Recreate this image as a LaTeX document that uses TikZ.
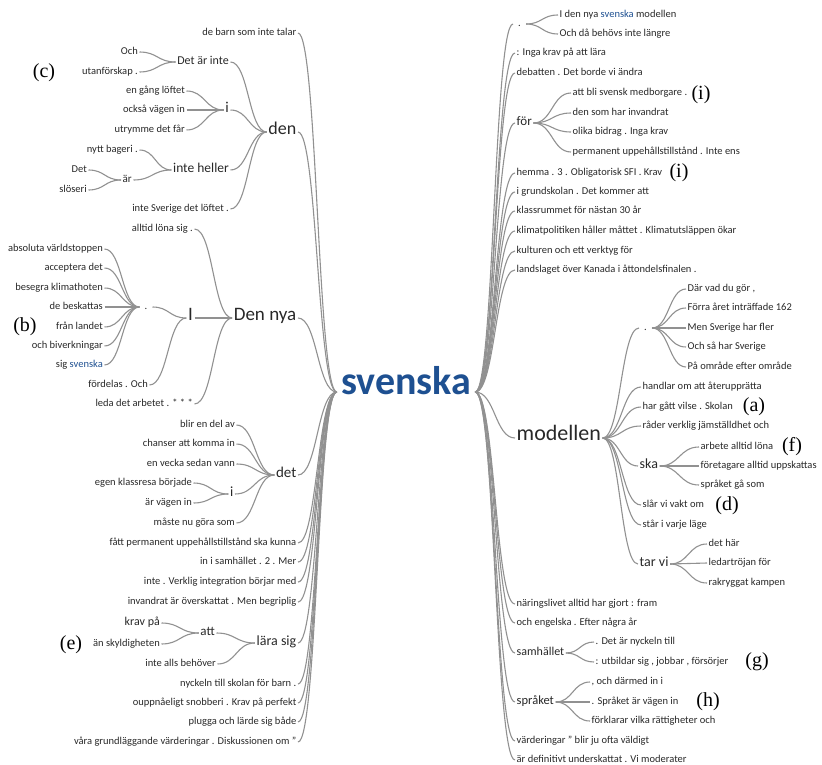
\documentclass[tikz,border=0pt]{standalone}
\usepackage{fontspec}
\setmainfont{Carlito}
\newfontfamily\labelfont{Liberation Serif}
\usetikzlibrary{calc}

\definecolor{edgegray}{RGB}{145,145,145}
\definecolor{wordblue}{RGB}{30,80,145}
\definecolor{wordtext}{RGB}{40,40,40}

\tikzset{
  fs/.style={font=\fontsize{#1}{#1}\selectfont},
  word/.style={inner xsep=1.5pt, inner ysep=0pt, text height=0.7em, text depth=0.25em, text=wordtext, fs=10.5},
  lw/.style={word, anchor=east},
  rw/.style={word, anchor=west},
  dotw/.style={inner xsep=5pt},
  root/.style={inner xsep=4pt, inner ysep=0pt, text height=0.7em, text depth=0.25em, text=wordblue, font=\bfseries\fontsize{40}{40}\selectfont},
  tag/.style={font=\labelfont\fontsize{20}{20}\selectfont, inner sep=0pt},
  wt link/.style={draw=edgegray, line width=1.1pt,
    to path={let \p1=(\tikztostart), \p2=(\tikztotarget) in
      .. controls (\x1/2+\x2/2,\y1) and (\x1/2+\x2/2,\y2) .. (\tikztotarget)}},
}

\begin{document}
\begin{tikzpicture}[x=1pt, y=-1pt]
  \useasboundingbox (0,0) rectangle (822,765);

  \node[root] (svenska) at (406,392) {svenska};

  % 左側
  \node[lw] (debarn) at (298,33) {de barn som inte talar};
  \node[lw, fs=18] (den) at (298,132) {den};
  \node[lw, fs=19] (dennya) at (298,318) {Den nya};
  \node[lw, fs=15] (det) at (298,475) {det};
  \node[lw] (fatt) at (298,543) {fått permanent uppehållstillstånd ska kunna};
  \node[lw] (inisam) at (298,562) {in i samhället . 2 . Mer};
  \node[lw] (inteverk) at (298,582) {inte . Verklig integration börjar med};
  \node[lw] (invandrat) at (298,602) {invandrat är överskattat . Men begriplig};
  \node[lw, fs=14] (larasig) at (298,643) {lära sig};
  \node[lw] (nyckeln) at (298,684) {nyckeln till skolan för barn .};
  \node[lw] (ouppn) at (298,703) {ouppnåeligt snobberi . Krav på perfekt};
  \node[lw] (plugga) at (298,722) {plugga och lärde sig både};
  \node[lw] (vara) at (298,742) {våra grundläggande värderingar . Diskussionen om ”};

  \node[lw, fs=12] (detarinte) at (230.5,62) {Det är inte};
  \node[lw] (och) at (139.5,52) {Och};
  \node[lw] (utanf) at (139.5,72) {utanförskap .};
  \node[lw, fs=15] (iden) at (230.5,110) {i};
  \node[lw] (engang) at (186.5,91) {en gång löftet};
  \node[lw] (ocksa) at (186.5,110) {också vägen in};
  \node[lw] (utrymme) at (186.5,130) {utrymme det får};
  \node[lw, fs=13.5] (inteheller) at (230.5,170) {inte heller};
  \node[lw] (nytt) at (139.5,150) {nytt bageri .};
  \node[lw, fs=11] (ar) at (133.5,180) {är};
  \node[lw] (Det) at (88.5,170) {Det};
  \node[lw] (sloseri) at (88.5,190) {slöseri};
  \node[lw] (intesverige) at (230.5,209) {inte Sverige det löftet .};

  \node[lw] (alltid) at (194.5,229) {alltid löna sig .};
  \node[lw, fs=19] (I) at (194.5,318) {I};
  \node[lw, dotw] (punktI) at (152.5,307) {.};
  \node[lw] (absoluta) at (104.5,249) {absoluta världstoppen};
  \node[lw] (acceptera) at (104.5,268) {acceptera det};
  \node[lw] (besegra) at (104.5,288) {besegra klimathoten};
  \node[lw] (beskattas) at (104.5,307) {de beskattas};
  \node[lw] (franlandet) at (104.5,327) {från landet};
  \node[lw] (biverkn) at (104.5,346) {och biverkningar};
  \node[lw] (sigsv) at (104.5,365) {sig \textcolor{wordblue}{svenska}};
  \node[lw] (fordelas) at (149.5,385) {fördelas . Och};
  \node[lw] (leda) at (194.5,404) {leda det arbetet . * * *};

  \node[lw] (blir) at (236.5,425) {blir en del av};
  \node[lw] (chanser) at (236.5,444) {chanser att komma in};
  \node[lw] (envecka) at (236.5,464) {en vecka sedan vann};
  \node[lw, fs=14] (idet) at (235,494) {i};
  \node[lw] (egen) at (193.5,483) {egen klassresa började};
  \node[lw] (arvagen) at (193.5,503) {är vägen in};
  \node[lw] (maste) at (236.5,523) {måste nu göra som};

  \node[lw, fs=13] (att) at (216.5,633) {att};
  \node[lw, fs=12] (kravpa) at (161.5,623) {krav på};
  \node[lw] (ansk) at (161.5,644) {än skyldigheten};
  \node[lw] (intealls) at (217.5,664) {inte alls behöver};

  % 右側
  \node[rw, dotw] (punkt) at (513,24) {.};
  \node[rw] (idennya) at (558,15) {I den nya \textcolor{wordblue}{svenska} modellen};
  \node[rw] (ochda) at (558,34) {Och då behövs inte längre};
  \node[rw] (inga) at (515,53) {: Inga krav på att lära};
  \node[rw] (debatten) at (515,73) {debatten . Det borde vi ändra};
  \node[rw, fs=13] (for) at (515,123) {för};
  \node[rw] (attbli) at (571,93) {att bli svensk medborgare .};
  \node[rw] (densom) at (571,113) {den som har invandrat};
  \node[rw] (olika) at (571,132) {olika bidrag . Inga krav};
  \node[rw] (permanent) at (571,152) {permanent uppehållstillstånd . Inte ens};
  \node[rw] (hemma) at (515,173) {hemma . 3 . Obligatorisk SFI . Krav};
  \node[rw] (igrund) at (515,192) {i grundskolan . Det kommer att};
  \node[rw] (klassrummet) at (515,211) {klassrummet för nästan 30 år};
  \node[rw] (klimat) at (515,231) {klimatpolitiken håller måttet . Klimatutsläppen ökar};
  \node[rw] (kulturen) at (515,251) {kulturen och ett verktyg för};
  \node[rw] (landslaget) at (515,270) {landslaget över Kanada i åttondelsfinalen .};
  \node[rw, fs=22] (modellen) at (515,438) {modellen};
  \node[rw, dotw] (punktM) at (639,328) {.};
  \node[rw] (dar) at (686,289) {Där vad du gör ,};
  \node[rw] (forra) at (686,308) {Förra året inträffade 162};
  \node[rw] (men) at (686,328) {Men Sverige har fler};
  \node[rw] (ochsa) at (686,347) {Och så har Sverige};
  \node[rw] (paomrade) at (686,367) {På område efter område};
  \node[rw] (handlar) at (641,387) {handlar om att återupprätta};
  \node[rw] (hargatt) at (641,407) {har gått vilse . Skolan};
  \node[rw] (rader) at (641,426) {råder verklig jämställdhet och};
  \node[rw, fs=14] (ska) at (638,466) {ska};
  \node[rw] (arbete) at (699,447) {arbete alltid löna};
  \node[rw] (foretagare) at (699,466) {företagare alltid uppskattas};
  \node[rw] (spraketga) at (699,485) {språket gå som};
  \node[rw] (slar) at (641,505) {slår vi vakt om};
  \node[rw] (star) at (641,525) {står i varje läge};
  \node[rw, fs=14] (tarvi) at (638,564) {tar vi};
  \node[rw] (dethar) at (707,544) {det här};
  \node[rw] (ledar) at (707,563) {ledartröjan för};
  \node[rw] (rakryggat) at (707,583) {rakryggat kampen};
  \node[rw] (naringslivet) at (515,604) {näringslivet alltid har gjort : fram};
  \node[rw] (ocheng) at (515,623) {och engelska . Efter några år};
  \node[rw, fs=12] (samhallet) at (515,653) {samhället};
  \node[rw] (detarnyck) at (594,642) {. Det är nyckeln till};
  \node[rw] (utbildar) at (594,662) {: utbildar sig , jobbar , försörjer};
  \node[rw, fs=12.5] (spraket) at (515,702) {språket};
  \node[rw] (ochdarmed) at (590,682) {, och därmed in i};
  \node[rw] (spraketar) at (590,702) {. Språket är vägen in};
  \node[rw] (forklarar) at (590,721) {förklarar vilka rättigheter och};
  \node[rw] (varderingar) at (515,741) {värderingar ” blir ju ofta väldigt};
  \node[rw] (ardef) at (515,760) {är definitivt underskattat . Vi moderater};

  % 記号
  \node[tag] (tagc) at (44,73) {(c)};
  \node[tag] (tagb) at (25,327) {(b)};
  \node[tag] (tage) at (71,645) {(e)};
  \node[tag] (tagi) at (701,95) {(i)};
  \node[tag] (tagii) at (679,173) {(i)};
  \node[tag] (taga) at (754,407) {(a)};
  \node[tag] (tagf) at (792,447) {(f)};
  \node[tag] (tagd) at (727,506) {(d)};
  \node[tag] (tagg) at (757,662) {(g)};
  \node[tag] (tagh) at (708,702) {(h)};

  % エッジ
  \foreach \w in {debarn,den,dennya,det,fatt,inisam,inteverk,invandrat,larasig,nyckeln,ouppn,plugga,vara}
    \draw[wt link] (\w.east) to (svenska.west);
  \foreach \w in {detarinte,iden,inteheller,intesverige}
    \draw[wt link] (\w.east) to (den.west);
  \foreach \w in {och,utanf}
    \draw[wt link] (\w.east) to (detarinte.west);
  \foreach \w in {engang,ocksa,utrymme}
    \draw[wt link] (\w.east) to (iden.west);
  \foreach \w in {nytt,ar}
    \draw[wt link] (\w.east) to (inteheller.west);
  \foreach \w in {Det,sloseri}
    \draw[wt link] (\w.east) to (ar.west);
  \foreach \w in {alltid,I,leda}
    \draw[wt link] (\w.east) to (dennya.west);
  \foreach \w in {punktI,fordelas}
    \draw[wt link] (\w.east) to (I.west);
  \foreach \w in {absoluta,acceptera,besegra,beskattas,franlandet,biverkn,sigsv}
    \draw[wt link] (\w.east) to (punktI.west);
  \foreach \w in {blir,chanser,envecka,idet,maste}
    \draw[wt link] (\w.east) to (det.west);
  \foreach \w in {egen,arvagen}
    \draw[wt link] (\w.east) to (idet.west);
  \foreach \w in {att,intealls}
    \draw[wt link] (\w.east) to (larasig.west);
  \foreach \w in {kravpa,ansk}
    \draw[wt link] (\w.east) to (att.west);

  \foreach \w in {punkt,inga,debatten,for,hemma,igrund,klassrummet,klimat,kulturen,landslaget,modellen,naringslivet,ocheng,samhallet,spraket,varderingar,ardef}
    \draw[wt link] (svenska.east) to (\w.west);
  \foreach \w in {idennya,ochda}
    \draw[wt link] (punkt.east) to (\w.west);
  \foreach \w in {attbli,densom,olika,permanent}
    \draw[wt link] (for.east) to (\w.west);
  \foreach \w in {punktM,handlar,hargatt,rader,ska,slar,star,tarvi}
    \draw[wt link] (modellen.east) to (\w.west);
  \foreach \w in {dar,forra,men,ochsa,paomrade}
    \draw[wt link] (punktM.east) to (\w.west);
  \foreach \w in {arbete,foretagare,spraketga}
    \draw[wt link] (ska.east) to (\w.west);
  \foreach \w in {dethar,ledar,rakryggat}
    \draw[wt link] (tarvi.east) to (\w.west);
  \foreach \w in {detarnyck,utbildar}
    \draw[wt link] (samhallet.east) to (\w.west);
  \foreach \w in {ochdarmed,spraketar,forklarar}
    \draw[wt link] (spraket.east) to (\w.west);
\end{tikzpicture}
\end{document}
